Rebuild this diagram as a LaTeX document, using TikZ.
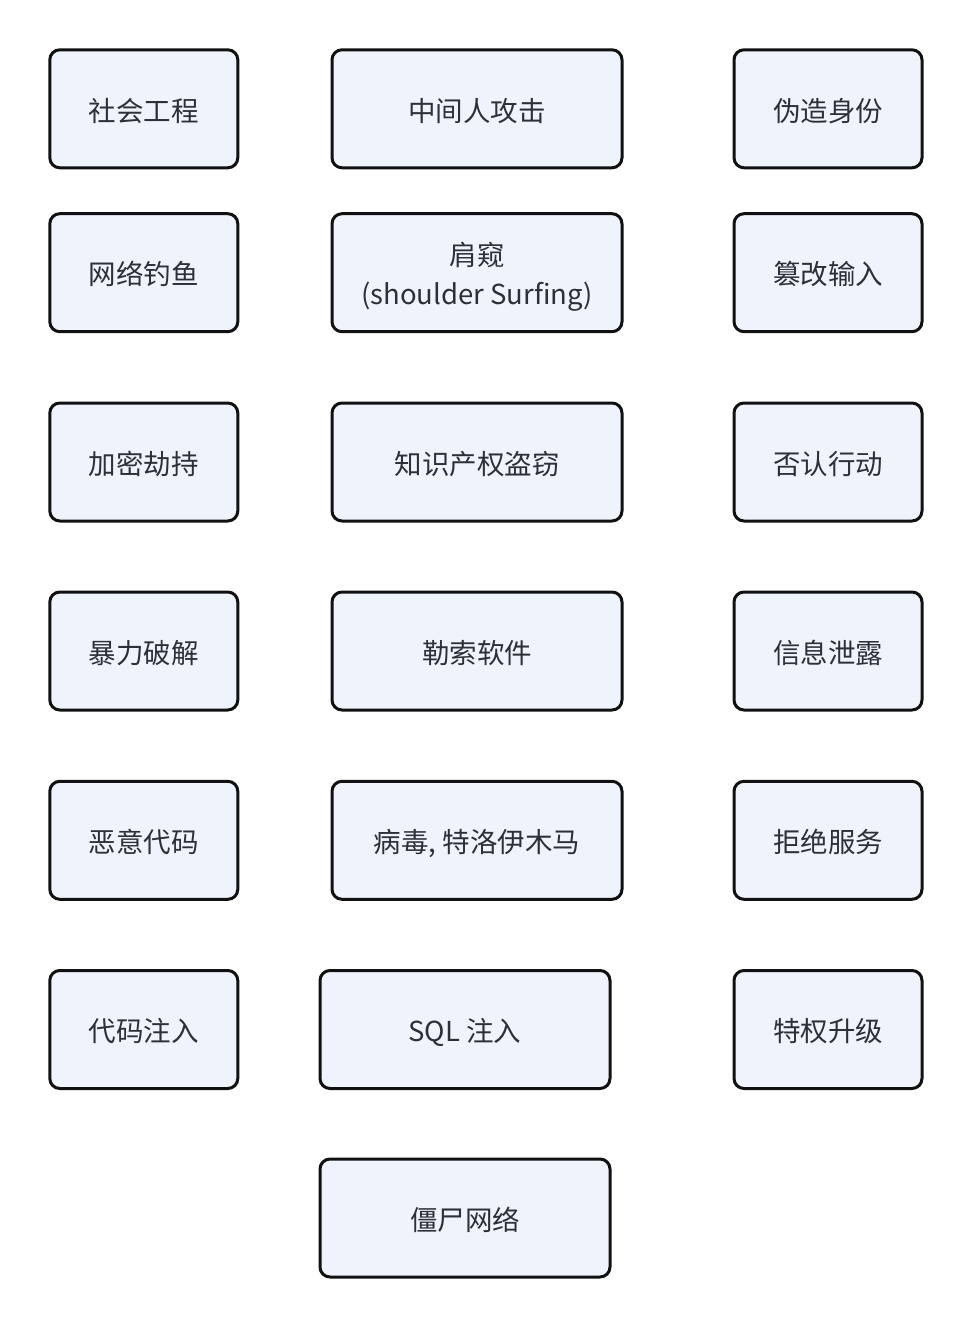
\documentclass[tikz,border=0pt]{standalone}
\usepackage{fontspec}
\setmainfont{Noto Sans CJK SC}
\usepackage{tikz}
\usepackage{color}

\begin{document}
\begin{tikzpicture}[x=1pt, y=-1pt,
	attack/.style={draw=boxline, fill=boxfill, line width=3pt, rounded corners=10pt,
		minimum height=118pt, inner sep=0pt, align=center, text=textgray,
		font=\fontsize{27.5}{39}\selectfont},
	oneline/.style={text height=25pt, text depth=0.5pt},
	twoline/.style={text height=66pt, text depth=2pt},
	narrow/.style={attack, oneline, minimum width=188pt},
	wide/.style={attack, minimum width=290pt}]
	\definecolor{boxfill}{RGB}{239, 243, 252}
	\definecolor{boxline}{RGB}{17, 17, 17}
	\definecolor{textgray}{RGB}{44, 48, 56}

	\useasboundingbox (0,0) rectangle (974,1328);

	% left column
	\node[narrow] (social) at (143.8, 108.8) {社会工程};
	\node[narrow] (phishing) at (143.8, 272.7) {网络钓鱼};
	\node[narrow] (cryptojack) at (143.8, 462) {加密劫持};
	\node[narrow] (bruteforce) at (143.8, 651) {暴力破解};
	\node[narrow] (malcode) at (143.8, 840.3) {恶意代码};
	\node[narrow] (codeinject) at (143.8, 1029.5) {代码注入};

	% middle column
	\node[wide, oneline] (mitm) at (477, 108.8) {中间人攻击};
	\node[wide, twoline] (shoulder) at (477, 272.7) {肩窥\\(shoulder Surfing)};
	\node[wide, oneline] (iptheft) at (477, 462) {知识产权盗窃};
	\node[wide, oneline] (ransom) at (477, 651) {勒索软件};
	\node[wide, oneline] (virus) at (477, 840.3) {病毒, 特洛伊木马};
	\node[wide, oneline] (sqlinject) at (465, 1029.5) {SQL 注入};
	\node[wide, oneline] (botnet) at (465, 1218) {僵尸网络};

	% right column
	\node[narrow] (spoofing) at (828, 108.8) {伪造身份};
	\node[narrow] (tamper) at (828, 272.7) {篡改输入};
	\node[narrow] (repudiate) at (828, 462) {否认行动};
	\node[narrow] (disclosure) at (828, 651) {信息泄露};
	\node[narrow] (dos) at (828, 840.3) {拒绝服务};
	\node[narrow] (elevate) at (828, 1029.5) {特权升级};
\end{tikzpicture}
\end{document}
